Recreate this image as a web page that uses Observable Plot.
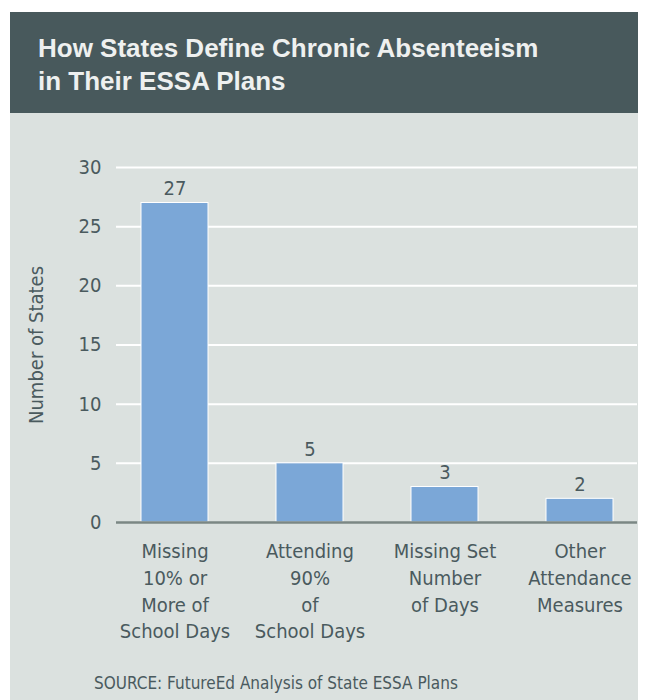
<!DOCTYPE html>
<html>
<head>
<meta charset="utf-8">
<script src="https://cdn.jsdelivr.net/npm/d3@7"></script>
<script src="https://cdn.jsdelivr.net/npm/@observablehq/plot@0.6"></script>
<style>
  html, body { margin: 0; padding: 0; background: #ffffff; width: 648px; height: 700px; overflow: hidden; }
  #panel { position: absolute; left: 10px; top: 12px; width: 628px; height: 688px; background: #dbe1df; }
  #header { position: absolute; left: 10px; top: 12px; width: 628px; height: 101px; background: #48595c; }
  #title { position: absolute; left: 38px; top: 32px; margin: 0; color: #eef0ef;
    font-family: "Liberation Sans", Arial, sans-serif; font-weight: bold; font-size: 26px; line-height: 33px; }
  #chart { position: absolute; left: 0; top: 113px; }
  #source { position: absolute; left: 94px; top: 673px; color: #4a5a5e;
    font-family: "Liberation Sans Narrow", "DejaVu Sans Condensed", sans-serif; font-stretch: condensed; font-size: 17px; }
</style>
</head>
<body>
<div id="panel"></div>
<div id="header"></div>
<h1 id="title">How States Define Chronic Absenteeism<br>in Their ESSA Plans</h1>
<div id="chart"></div>
<div id="source">SOURCE: FutureEd Analysis of State ESSA Plans</div>
<script>
const categories = [
  "Missing\n10% or\nMore of\nSchool Days",
  "Attending\n90%\nof\nSchool Days",
  "Missing Set\nNumber\nof Days",
  "Other\nAttendance\nMeasures"
];
const values = [27, 5, 3, 2];
const yTicks = [0, 5, 10, 15, 20, 25, 30];
const yLabel = "Number of States";

const data = categories.map((c, i) => ({category: c, value: values[i]}));
const textColor = "#4a5a5e";
const font = "'Liberation Sans Narrow', 'DejaVu Sans Condensed', sans-serif";

const chart = Plot.plot({
  width: 648,
  height: 550,
  marginLeft: 116,
  marginRight: 11,
  marginTop: 54,
  marginBottom: 141,
  style: {background: "transparent", color: textColor, fontFamily: font, fontStretch: "condensed"},
  x: {domain: categories, paddingInner: 0.507, paddingOuter: 0.169, label: null},
  y: {domain: [0, 30], label: null},
  marks: [
    Plot.ruleY(yTicks.filter(d => d > 0), {stroke: "#ffffff", strokeWidth: 2}),
    Plot.barY(data, {x: "category", y: "value", fill: "#7ba7d7", stroke: "#ffffff", strokeWidth: 1}),
    Plot.ruleY([0], {stroke: "#7b8784", strokeWidth: 2.5}),
    Plot.text(data, {x: "category", y: "value", text: d => String(d.value), dy: -14, fontSize: 20, fill: textColor}),
    Plot.axisX({tickSize: 0, tickPadding: 17, fontSize: 20, lineHeight: 1.33, lineAnchor: "top", label: null, fill: textColor}),
    Plot.axisY({ticks: yTicks, tickSize: 0, tickPadding: 15, fontSize: 20, fill: textColor, label: null}),
    Plot.text([yLabel], {frameAnchor: "left", textAnchor: "middle", dx: -80, rotate: -90, fontSize: 20, fill: textColor})
  ]
});
document.getElementById("chart").appendChild(chart);
</script>
</body>
</html>
